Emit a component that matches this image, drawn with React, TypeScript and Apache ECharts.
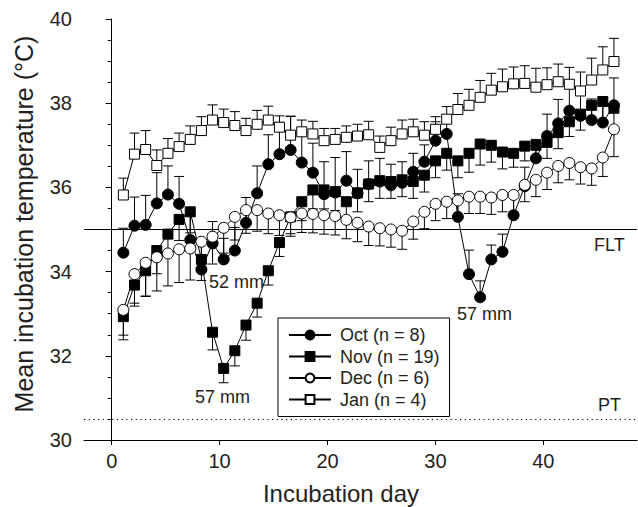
import React, { useEffect, useRef } from "react";
import * as echarts from "echarts";

const days = [1,2,3,4,5,6,7,8,9,10,11,12,13,14,15,16,17,18,19,20,21,22,23,24,25,26,27,28,29,30,31,32,33,34,35,36,37,38,39,40,41,42,43,44,45];

const octMean = [34.45,35.09,35.11,35.62,35.83,35.61,34.75,34.05,34.67,34.29,34.50,35.16,35.86,36.55,36.79,36.89,36.59,36.35,35.84,35.88,36.16,35.86,36.08,36.14,36.05,36.11,36.37,36.61,37.11,37.27,35.30,33.94,33.39,34.29,34.47,35.34,36.03,36.69,37.22,37.52,37.82,37.70,37.60,37.54,37.95];
const octErr = [0.58,0.68,0.70,0.73,0.68,0.65,0.60,0.60,0.52,0.50,0.55,0.60,0.65,0.70,0.75,0.80,0.75,0.70,0.77,0.83,0.69,0.57,0.55,0.55,0.50,0.50,0.44,0.40,0.45,0.40,0.55,0.57,0.39,0.34,0.42,0.45,0.45,0.45,0.52,0.57,0.55,0.50,0.50,0.50,0.65];

const novMean = [32.93,33.68,34.02,34.50,34.89,35.24,35.42,34.29,32.56,31.70,32.12,32.73,33.25,34.02,34.69,35.30,35.66,35.94,35.94,35.90,35.66,35.87,36.08,36.16,36.14,36.18,36.14,36.29,36.63,36.81,36.63,36.81,37.03,37.00,36.84,36.81,36.98,37.00,37.07,37.30,37.56,37.74,37.95,38.04,37.88];
const novErr = [0.55,0.50,0.60,0.55,0.50,0.50,0.50,0.50,0.42,0.34,0.36,0.36,0.33,0.34,0.33,0.40,0.45,0.45,0.45,0.45,0.45,0.45,0.42,0.42,0.40,0.40,0.40,0.40,0.40,0.40,0.40,0.45,0.50,0.40,0.40,0.33,0.35,0.38,0.38,0.38,0.35,0.38,0.40,0.45,0.45];

const decMean = [33.09,33.94,34.21,34.34,34.43,34.53,34.55,34.71,34.83,35.04,35.30,35.46,35.46,35.38,35.34,35.29,35.38,35.37,35.34,35.32,35.23,35.16,35.07,35.03,35.00,34.97,35.19,35.42,35.61,35.66,35.69,35.78,35.78,35.76,35.82,35.82,36.06,36.18,36.35,36.51,36.58,36.48,36.45,36.71,37.38];
const decErr = [0.60,0.69,0.80,0.80,0.77,0.79,0.75,0.70,0.65,0.60,0.55,0.55,0.50,0.48,0.48,0.45,0.45,0.45,0.45,0.45,0.45,0.45,0.45,0.42,0.42,0.44,0.42,0.40,0.40,0.40,0.40,0.40,0.40,0.40,0.40,0.40,0.40,0.40,0.40,0.40,0.40,0.40,0.40,0.45,0.65];

const janMean = [35.82,36.79,36.90,36.52,36.81,36.97,37.14,37.35,37.60,37.54,37.47,37.35,37.50,37.60,37.43,37.24,37.32,37.27,37.11,37.14,37.19,37.22,37.25,36.95,37.11,37.27,37.32,37.24,37.38,37.62,37.85,37.95,38.14,38.31,38.39,38.46,38.47,38.38,38.44,38.51,38.45,38.29,38.55,38.79,38.99];
const janErr = [0.40,0.50,0.45,0.37,0.35,0.32,0.32,0.33,0.36,0.32,0.33,0.29,0.33,0.33,0.27,0.45,0.28,0.30,0.29,0.26,0.27,0.28,0.32,0.27,0.32,0.33,0.30,0.32,0.30,0.30,0.38,0.38,0.40,0.40,0.42,0.40,0.42,0.45,0.40,0.42,0.40,0.45,0.52,0.55,0.55];

const xTicks = [0, 10, 20, 30, 40];
const fltValue = 35;
const ptValue = 30.5;

const FONT = "'Liberation Sans', Arial, Helvetica, sans-serif";
const INK = "#231f20";

type SeriesDef = { name: string; mean: number[]; err: number[]; dir: number; symbol: string; fill: string; size: number };

const seriesDefs: SeriesDef[] = [
  { name: "Oct (n = 8)", mean: octMean, err: octErr, dir: 1, symbol: "circle", fill: "#000", size: 11 },
  { name: "Nov (n = 19)", mean: novMean, err: novErr, dir: -1, symbol: "rect", fill: "#000", size: 10 },
  { name: "Dec (n = 6)", mean: decMean, err: decErr, dir: -1, symbol: "circle", fill: "#fff", size: 11 },
  { name: "Jan (n = 4)", mean: janMean, err: janErr, dir: 1, symbol: "rect", fill: "#fff", size: 10 },
];

export default function App() {
  const ref = useRef<HTMLDivElement>(null);
  useEffect(() => {
    if (!ref.current) return;
    const chart = echarts.init(ref.current, undefined, { renderer: "svg" });

    const errorSeries = seriesDefs.map((s) => ({
      type: "custom",
      name: s.name + " err",
      xAxisIndex: 1,
      yAxisIndex: 0,
      silent: true,
      z: 2,
      data: days.map((d, i) => [d, s.mean[i], s.err[i], s.dir]),
      renderItem: (_params: any, api: any) => {
        const x = api.value(0);
        const y = api.value(1);
        const e = api.value(2);
        const dir = api.value(3);
        const p0 = api.coord([x, y]);
        const p1 = api.coord([x, y + dir * e]);
        const st = { stroke: "#000", lineWidth: 1 };
        return {
          type: "group",
          children: [
            { type: "line", shape: { x1: p0[0], y1: p0[1], x2: p1[0], y2: p1[1] }, style: st },
            { type: "line", shape: { x1: p1[0] - 5, y1: p1[1], x2: p1[0] + 5, y2: p1[1] }, style: st },
          ],
        };
      },
    }));

    const lineSeries = seriesDefs.map((s, idx) => ({
      type: "line",
      name: s.name,
      xAxisIndex: 1,
      yAxisIndex: 0,
      z: 3 + idx,
      symbol: s.symbol,
      symbolSize: s.size,
      showAllSymbol: true,
      data: days.map((d, i) => [d, s.mean[i]]),
      lineStyle: { color: "#000", width: 1 },
      itemStyle: { color: s.fill, borderColor: "#000", borderWidth: 1 },
      emphasis: { disabled: true },
      ...(idx === 0
        ? {
            markLine: {
              silent: true,
              symbol: "none",
              label: { show: false },
              data: [
                { yAxis: fltValue, lineStyle: { color: "#000", width: 1, type: "solid" } },
                { yAxis: ptValue, lineStyle: { color: "#000", width: 1.2, type: [1.2, 3.5] } },
              ],
            },
          }
        : {}),
    }));

    chart.setOption({
      animation: false,
      grid: { left: 84, right: 1, top: 19, bottom: 67, containLabel: false },
      legend: {
        orient: "vertical",
        left: 278,
        top: 318,
        padding: [8, 10, 8, 10],
        itemWidth: 42,
        itemHeight: 11,
        itemGap: 3.5,
        borderColor: "#000",
        borderWidth: 1,
        backgroundColor: "#fff",
        data: seriesDefs.map((s) => s.name),
        textStyle: { fontFamily: FONT, fontSize: 18, color: INK, lineHeight: 18, padding: [0, 0, 0, 4] },
        selectedMode: false,
      },
      xAxis: [
        {
          type: "value",
          min: -2.567,
          max: 48.68,
          axisLine: { show: true, onZero: false, lineStyle: { color: "#000", width: 1 } },
          axisTick: { show: true, length: 5, customValues: xTicks, lineStyle: { color: "#000" } },
          axisLabel: { customValues: xTicks, fontSize: 20, fontFamily: FONT, color: INK, margin: 11 },
          splitLine: { show: false },
        },
        {
          type: "value",
          min: -2.529,
          max: 47.067,
          show: false,
          splitLine: { show: false },
        },
      ],
      yAxis: {
        type: "value",
        min: 30,
        max: 40,
        interval: 2,
        axisLine: { show: true, lineStyle: { color: "#000", width: 1 } },
        axisTick: { show: true, length: 6, lineStyle: { color: "#000" } },
        minorTick: { show: true, splitNumber: 4, length: 4, lineStyle: { color: "#000" } },
        axisLabel: { fontSize: 20, fontFamily: FONT, color: INK, margin: 12 },
        splitLine: { show: false },
      },
      graphic: [
        {
          type: "text",
          x: 24,
          y: 224,
          rotation: Math.PI / 2,
          style: { text: "Mean incubation temperature (°C)", fontSize: 25, fontFamily: FONT, fill: INK, textAlign: "center", textVerticalAlign: "middle" },
        },
        {
          type: "text",
          x: 341,
          y: 493,
          style: { text: "Incubation day", fontSize: 24, fontFamily: FONT, fill: INK, textAlign: "center", textVerticalAlign: "middle" },
        },
        { type: "text", x: 209, y: 282, z: 10, style: { text: "52 mm", fontSize: 18, fontFamily: FONT, fill: INK, textVerticalAlign: "middle" } },
        { type: "text", x: 195, y: 397, z: 10, style: { text: "57 mm", fontSize: 18, fontFamily: FONT, fill: INK, textVerticalAlign: "middle" } },
        { type: "text", x: 457, y: 314, z: 10, style: { text: "57 mm", fontSize: 18, fontFamily: FONT, fill: INK, textVerticalAlign: "middle" } },
        { type: "text", x: 594, y: 245, z: 10, style: { text: "FLT", fontSize: 18, fontFamily: FONT, fill: INK, textVerticalAlign: "middle" } },
        { type: "text", x: 598, y: 405, z: 10, style: { text: "PT", fontSize: 18, fontFamily: FONT, fill: INK, textVerticalAlign: "middle" } },
      ],
      series: [...errorSeries, ...lineSeries],
    });
    return () => chart.dispose();
  }, []);
  return <div ref={ref} style={{ position: "absolute", left: 0, top: 0, width: 638, height: 507, background: "#fff" }} />;
}
